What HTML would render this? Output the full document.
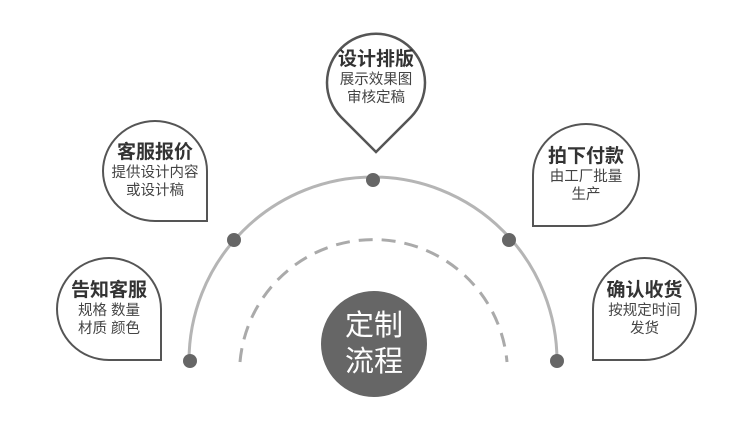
<!DOCTYPE html>
<html><head><meta charset="utf-8"><style>
body{margin:0;width:750px;height:429px;background:#fff;position:relative;overflow:hidden;font-family:"Liberation Sans","Noto Sans CJK SC",sans-serif;}
.b{position:absolute;box-sizing:border-box;border:2.5px solid #555;background:#fff;text-align:center;color:#444;display:flex;flex-direction:column;justify-content:center;align-items:center;}
.b .t{font-weight:bold;font-size:19px;color:#333;line-height:22px;}
.b .s{font-size:14.5px;line-height:18px;}
.br{border-radius:50% 50% 0 50%;}
.bl{border-radius:50% 50% 50% 0;}
.c{position:absolute;left:321px;top:291px;width:106px;height:106px;border-radius:50%;background:#666;color:#fff;font-size:29px;line-height:36px;text-align:center;display:flex;flex-direction:column;justify-content:center;}
</style></head><body>
<svg width="750" height="429" style="position:absolute;left:0;top:0">
<path d="M189 361 A184 184 0 0 1 557 361" fill="none" stroke="#b5b5b5" stroke-width="3"/>
<path d="M240 362 A134 134 0 0 1 507 362" fill="none" stroke="#aaa" stroke-width="3" stroke-dasharray="14 9"/>
<g fill="#666">
<circle cx="190" cy="361" r="7"/><circle cx="234" cy="240" r="7"/><circle cx="373" cy="180" r="7"/><circle cx="509" cy="240" r="7"/><circle cx="557" cy="361" r="7"/>
</g>
<path d="M376 152 L341 117 A49 49 0 1 1 411 117 Z" fill="#fff" stroke="#555" stroke-width="2.5"/>
</svg>
<div style="position:absolute;left:326px;top:49px;width:100px;text-align:center;color:#444">
<div style="font-weight:bold;font-size:19px;line-height:22px;color:#333">设计排版</div>
<div style="font-size:14.5px;line-height:18px">展示效果图</div>
<div style="font-size:14.5px;line-height:18px">审核定稿</div></div>
<div class="b br" style="left:102px;top:120px;width:106px;height:102px"><div class="t">客服报价</div><div class="s">提供设计内容</div><div class="s">或设计稿</div></div>
<div class="b br" style="left:56px;top:257px;width:106px;height:104px"><div class="t">告知客服</div><div class="s">规格 数量</div><div class="s">材质 颜色</div></div>
<div class="b bl" style="left:532px;top:123px;width:108px;height:104px"><div class="t">拍下付款</div><div class="s">由工厂批量</div><div class="s">生产</div></div>
<div class="b bl" style="left:592px;top:257px;width:105px;height:104px"><div class="t">确认收货</div><div class="s">按规定时间</div><div class="s">发货</div></div>
<div class="c"><div>定制</div><div>流程</div></div>
</body></html>
